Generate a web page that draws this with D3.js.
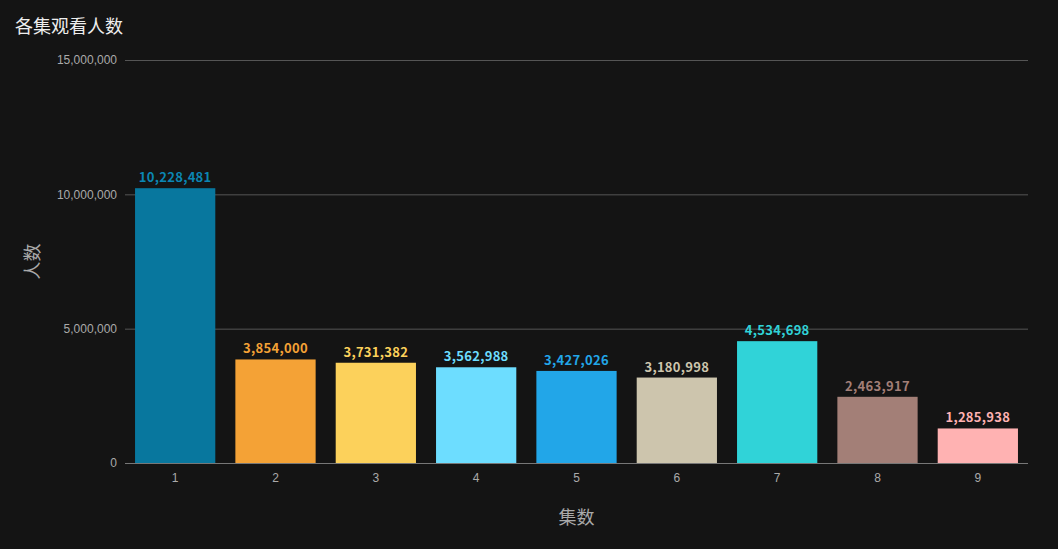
<!DOCTYPE html>
<html><head><meta charset="utf-8">
<script src="https://cdn.jsdelivr.net/npm/d3@7/dist/d3.min.js"></script>
<style>
html,body{margin:0;padding:0;background:#141414;}
svg{display:block;font-family:"Noto Sans CJK SC","Noto Sans",sans-serif;}
</style></head><body>
<svg id="c" width="1058" height="549"></svg>
<script>
const categories = ["1","2","3","4","5","6","7","8","9"];
const values = [10228481, 3854000, 3731382, 3562988, 3427026, 3180998, 4534698, 2463917, 1285938];
const colors = ["#08779e","#f4a236","#fcd15b","#6dddff","#22a6e8","#cdc5ad","#30d3d8","#a37f77","#ffb2b2"];
const yTicks = [0, 5000000, 10000000, 15000000];
const title = "各集观看人数";
const xTitle = "集数";
const yTitle = "人数";

const svg = d3.select("#c");
const W = 1058, H = 549;
const m = {left:125, right:30, top:60, bottom:86};
const x = d3.scaleBand().domain(categories).range([m.left, W - m.right]).paddingInner(0.2).paddingOuter(0.1);
const y = d3.scaleLinear().domain([0, 15000000]).range([H - m.bottom, m.top]);
const fmt = d3.format(",");

svg.append("rect").attr("width", W).attr("height", H).attr("fill", "#141414");

svg.append("text").attr("x", 15).attr("y", 33).attr("fill", "#eeeeee")
  .attr("font-size", 18).text(title);

const yAxis = svg.append("g").attr("transform", `translate(${m.left},0)`)
  .call(d3.axisLeft(y).tickValues(yTicks).tickFormat(fmt).tickSize(-(W - m.left - m.right)).tickPadding(8));
yAxis.select(".domain").remove();
yAxis.selectAll(".tick line").attr("stroke", "#555555");
yAxis.selectAll(".tick text").attr("fill", "#aaaaaa").attr("font-size", 12);

svg.append("g").selectAll("rect").data(values).join("rect")
  .attr("x", (d,i) => x(categories[i]))
  .attr("y", d => y(d))
  .attr("width", x.bandwidth())
  .attr("height", d => y(0) - y(d))
  .attr("fill", (d,i) => colors[i]);

svg.append("g").selectAll("text").data(values).join("text")
  .attr("x", (d,i) => x(categories[i]) + x.bandwidth()/2)
  .attr("y", d => y(d) - 6)
  .attr("text-anchor", "middle")
  .attr("font-size", 13).attr("font-weight", "bold").attr("letter-spacing", 0.3)
  .attr("fill", (d,i) => i === 0 ? "#0b86b3" : colors[i])
  .text(d => fmt(d));

const xAxis = svg.append("g").attr("transform", `translate(0,${y(0)})`)
  .call(d3.axisBottom(x).tickSize(0).tickPadding(10));
xAxis.select(".domain").attr("stroke", "#777777").attr("d", `M${m.left},0.5H${W - m.right}`);
xAxis.selectAll(".tick text").attr("fill", "#aaaaaa").attr("font-size", 12);

svg.append("text").attr("x", (m.left + W - m.right)/2).attr("y", 524)
  .attr("text-anchor", "middle").attr("fill", "#aaaaaa").attr("font-size", 18).text(xTitle);

svg.append("text").attr("transform", `translate(39,${(m.top + H - m.bottom)/2}) rotate(-90)`)
  .attr("text-anchor", "middle").attr("fill", "#aaaaaa").attr("font-size", 18).text(yTitle);
</script>
</body></html>
